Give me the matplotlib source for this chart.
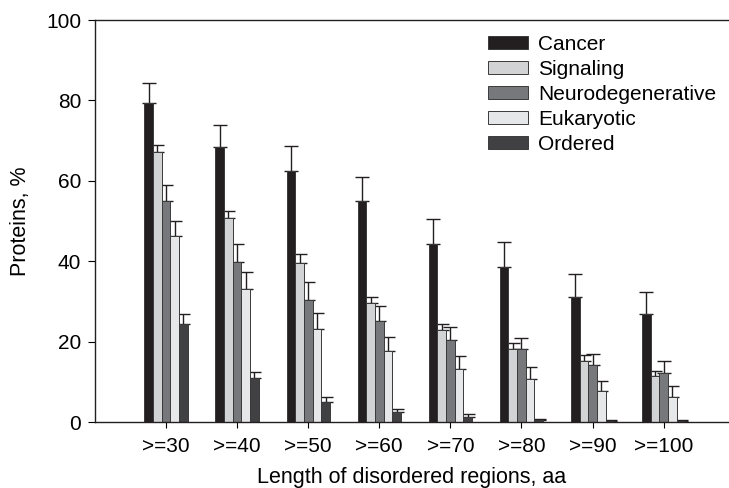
import numpy as np
import matplotlib
matplotlib.use("Agg")
import matplotlib.pyplot as plt

plt.rcParams['font.family'] = ['Liberation Sans', 'DejaVu Sans']

# data
categories = [">=30", ">=40", ">=50", ">=60", ">=70", ">=80", ">=90", ">=100"]
series_names = ["Cancer", "Signaling", "Neurodegenerative", "Eukaryotic", "Ordered"]
cancer = [79.3, 68.4, 62.4, 55.1, 44.3, 38.5, 31.2, 26.9]
signaling = [67.1, 50.7, 39.5, 29.5, 22.9, 18.1, 15.1, 11.4]
neurodegenerative = [54.9, 39.9, 30.4, 25.2, 20.3, 18.1, 14.3, 12.3]
eukaryotic = [46.2, 33.0, 23.1, 17.7, 13.1, 10.8, 7.6, 6.1]
ordered = [24.3, 10.9, 4.9, 2.4, 1.2, 0.4, 0.25, 0.2]
# upper error bar tops
cancer_top = [84.4, 74.0, 68.7, 60.9, 50.6, 44.7, 36.8, 32.4]
signaling_top = [69.0, 52.6, 41.7, 31.2, 24.5, 19.7, 16.6, 12.8]
neurodegenerative_top = [59.0, 44.4, 34.8, 28.9, 23.7, 21.0, 16.9, 15.1]
eukaryotic_top = [50.1, 37.4, 27.2, 21.2, 16.4, 13.8, 10.3, 9.0]
ordered_top = [26.9, 12.5, 6.1, 3.3, 1.9, 0.8, 0.6, 0.4]

values = [cancer, signaling, neurodegenerative, eukaryotic, ordered]
tops = [cancer_top, signaling_top, neurodegenerative_top, eukaryotic_top, ordered_top]
colors = ["#231f20", "#d1d3d4", "#77787b", "#e6e7e8", "#414042"]

fig = plt.figure(figsize=(7.29, 4.88), dpi=100)
ax = fig.add_axes([0.1303, 0.1352, 0.8697, 0.8238])

x = np.arange(len(categories))
width = 0.122
for i, (name, vals, top, col) in enumerate(zip(series_names, values, tops, colors)):
    pos = x + (i - 2) * width
    vals = np.array(vals)
    err = np.array(top) - vals
    ax.bar(pos, vals, width, color=col, edgecolor="#3a3a3a", linewidth=0.7,
           label=name, zorder=2)
    ax.errorbar(pos, vals, yerr=[np.zeros_like(err), err], fmt="none",
                ecolor="#231f20", elinewidth=1.0, capsize=5, capthick=1.0, zorder=1)

ax.set_xlim(-1.0, 7.92)
ax.set_ylim(0, 100)
ax.set_xticks(x)
ax.set_xticklabels(categories, fontsize=15)
ax.set_yticks([0, 20, 40, 60, 80, 100])
ax.tick_params(axis='y', labelsize=15, length=5, width=0.8, direction='out', pad=5)
ax.tick_params(axis='x', length=4, width=0.8, direction='out', pad=7)

for s in ['left', 'bottom', 'top']:
    ax.spines[s].set_linewidth(1.0)
    ax.spines[s].set_color("#231f20")
ax.spines['right'].set_visible(False)

ax.set_xlabel("Length of disordered regions, aa", fontsize=15.5, labelpad=8)
ax.set_ylabel("Proteins, %", fontsize=15.5, labelpad=11)

ax.legend(loc='upper left', bbox_to_anchor=(0.6694, 0.929),
          bbox_transform=fig.transFigure, frameon=False, fontsize=15,
          handlelength=1.9, handleheight=0.62, handletextpad=0.52,
          labelspacing=0.29, borderpad=0, borderaxespad=0)

fig.savefig("out.png", dpi=100)
